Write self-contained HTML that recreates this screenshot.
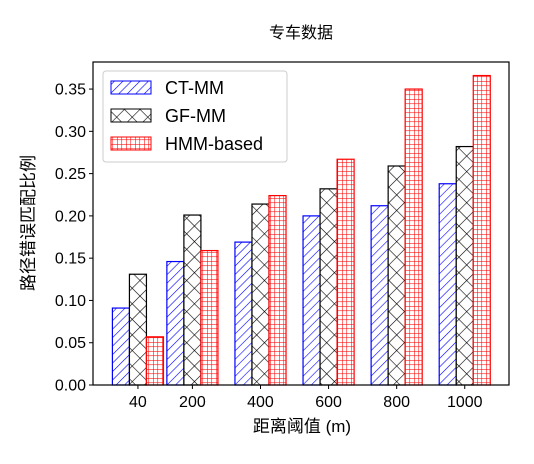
<!DOCTYPE html>
<html><head><meta charset="utf-8"><style>
body{margin:0;background:#fff;}
svg text{font-family:"Liberation Sans","Noto Sans CJK SC",sans-serif;}
</style></head><body>
<svg id="c" width="534" height="459" xmlns="http://www.w3.org/2000/svg">
<defs>
<pattern id="pCT" patternUnits="userSpaceOnUse" width="6" height="6" patternTransform="rotate(45)"><rect width="6" height="6" fill="#fff"/><line x1="0" y1="0" x2="0" y2="6" stroke="#00f" stroke-width="1.2"/></pattern>
<pattern id="pGF" patternUnits="userSpaceOnUse" width="11" height="11" patternTransform="rotate(45)"><rect width="11" height="11" fill="#fff"/><line x1="0" y1="0" x2="0" y2="11" stroke="#000" stroke-width="1.2"/><line x1="0" y1="0" x2="11" y2="0" stroke="#000" stroke-width="1.2"/></pattern>
<pattern id="pHMM" patternUnits="userSpaceOnUse" width="4.5" height="4.5"><rect width="4.5" height="4.5" fill="#fff"/><line x1="0" y1="0" x2="0" y2="4.5" stroke="#f00" stroke-width="1.1"/><line x1="0" y1="0" x2="4.5" y2="0" stroke="#f00" stroke-width="1.1"/></pattern>
</defs>
<text x="301" y="38" font-size="16" text-anchor="middle">专车数据</text>
<g id="bars"></g>
<rect x="93" y="62" width="416" height="323" fill="none" stroke="#000" stroke-width="1.2"/>
<g id="axes"></g>
<text x="302" y="432" font-size="17" text-anchor="middle">距离阈值 (m)</text>
<text transform="translate(34,223) rotate(-90)" font-size="17" text-anchor="middle">路径错误匹配比例</text>
<g>
<rect x="103" y="71" width="184" height="91" rx="3" fill="#fff" fill-opacity="0.8" stroke="#ccc"/>
<g><rect x="111" y="81" width="40" height="13" fill="url(#pCT)" stroke="#00f"/><text x="165" y="94" font-size="18">CT-MM</text></g>
<g><rect x="111" y="109" width="40" height="13" fill="url(#pGF)" stroke="#000"/><text x="165" y="122" font-size="18">GF-MM</text></g>
<g><rect x="111" y="137" width="40" height="13" fill="url(#pHMM)" stroke="#f00"/><text x="165" y="150" font-size="18">HMM-based</text></g>
</g>
</svg>
<script>
const categories = ["40","200","400","600","800","1000"];
const xPositions = [0.2,1,2,3,4,5];
const ctValues = [0.091,0.146,0.169,0.200,0.212,0.238];
const gfValues = [0.131,0.201,0.214,0.232,0.259,0.282];
const hmmValues = [0.057,0.159,0.224,0.267,0.350,0.366];
const yTicks = [0,0.05,0.10,0.15,0.20,0.25,0.30,0.35];
const yTickLabels = ["0.00","0.05","0.10","0.15","0.20","0.25","0.30","0.35"];

const NS="http://www.w3.org/2000/svg";
const L=93,R=509,T=62,B=385;
const xMin=-0.46,xMax=5.65,yMin=0,yMax=0.382;
const xs=v=>L+(v-xMin)/(xMax-xMin)*(R-L);
const ys=v=>B-(v-yMin)/(yMax-yMin)*(B-T);
const bw=0.25;
const series=[{name:"ct-mm",vals:ctValues,fill:"url(#pCT)",stroke:"#00f",off:-1},
{name:"gf-mm",vals:gfValues,fill:"url(#pGF)",stroke:"#000",off:0},
{name:"hmm-based",vals:hmmValues,fill:"url(#pHMM)",stroke:"#f00",off:1}];
const gb=document.getElementById("bars");
series.forEach(s=>{s.vals.forEach((v,i)=>{
const r=document.createElementNS(NS,"rect");
const x0=xs(xPositions[i]+s.off*bw-bw/2),x1=xs(xPositions[i]+s.off*bw+bw/2);
r.setAttribute("x",x0);r.setAttribute("width",x1-x0);
r.setAttribute("y",ys(v));r.setAttribute("height",ys(0)-ys(v));
r.setAttribute("fill",s.fill);r.setAttribute("stroke",s.stroke);r.setAttribute("stroke-width","1.2");


gb.appendChild(r);});});
const ga=document.getElementById("axes");
yTicks.forEach((t,i)=>{
const y=ys(t);
const l=document.createElementNS(NS,"line");
l.setAttribute("x1",L-4);l.setAttribute("x2",L);l.setAttribute("y1",y);l.setAttribute("y2",y);l.setAttribute("stroke","#000");


ga.appendChild(l);
const tx=document.createElementNS(NS,"text");
tx.setAttribute("x",L-7);tx.setAttribute("y",y+5.5);tx.setAttribute("font-size","16");tx.setAttribute("text-anchor","end");
tx.textContent=yTickLabels[i];


ga.appendChild(tx);});
categories.forEach((c,i)=>{
const x=xs(xPositions[i]);
const l=document.createElementNS(NS,"line");
l.setAttribute("x1",x);l.setAttribute("x2",x);l.setAttribute("y1",B);l.setAttribute("y2",B+4);l.setAttribute("stroke","#000");


ga.appendChild(l);
const tx=document.createElementNS(NS,"text");
tx.setAttribute("x",x);tx.setAttribute("y",B+22);tx.setAttribute("font-size","16");tx.setAttribute("text-anchor","middle");
tx.textContent=c;


ga.appendChild(tx);});
</script>
</body></html>
